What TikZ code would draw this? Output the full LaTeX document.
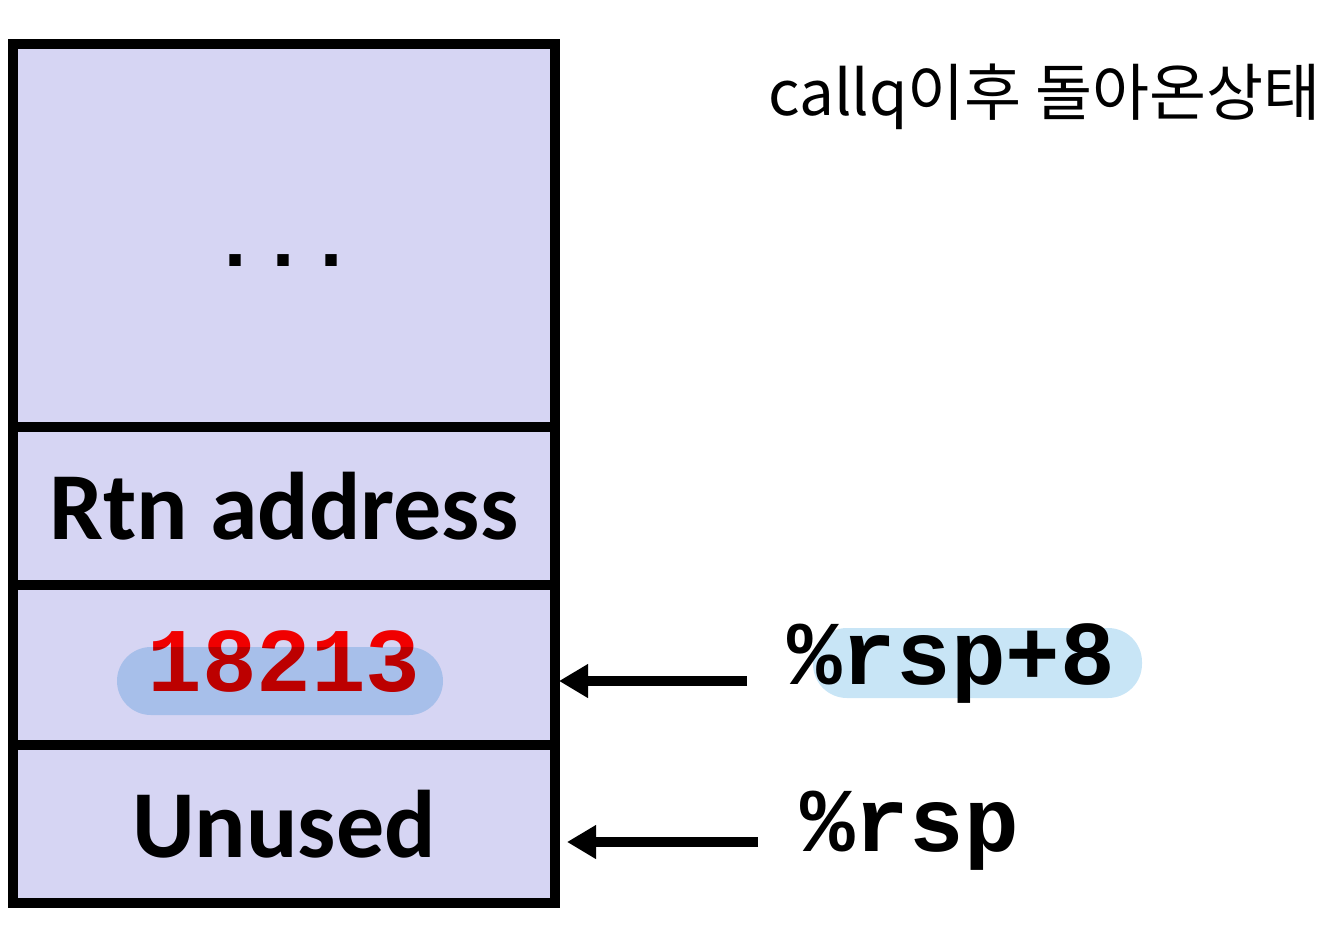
\documentclass[tikz,border=0pt]{standalone}
\usepackage{fontspec}
\setmainfont{Carlito}
\newfontfamily\codefont{Liberation Mono}
\newfontfamily\hangulfont{Noto Sans CJK KR}
\usetikzlibrary{positioning,calc,arrows.meta}

\definecolor{cellfill}{RGB}{214,213,243}
\definecolor{marker}{RGB}{200,229,246}
\definecolor{valred}{RGB}{240,0,0}

\begin{document}
\begin{tikzpicture}[
    x=1pt, y=-1pt,
    cell/.style={
        rectangle, draw=black, line width=10pt, fill=cellfill,
        minimum width=542pt, inner sep=0pt, outer sep=0pt,
        font=\fontsize{96}{110}\selectfont\bfseries
    },
    code/.style={
        inner sep=0pt, font=\fontsize{91}{100}\selectfont\codefont\bfseries
    },
    pill/.style={
        rectangle, rounded corners=34pt, fill=marker, inner sep=0pt
    },
    pointer/.style={
        line width=10pt, -{Triangle[length=29pt,width=32pt]}
    }
]
    \useasboundingbox (0,0) rectangle (1332,927);

    % stack cells
    \node (frame) [cell, minimum height=383pt] at (284,235.5) {};
    \node (ret) [cell, minimum height=158pt, below=0pt of frame] {Rtn address};
    \node (arg) [cell, minimum height=160pt, below=0pt of ret] {};
    \node (unused) [cell, minimum height=158pt, below=0pt of arg] {Unused};

    \node (ellip) [code, font=\fontsize{80}{90}\selectfont\codefont\bfseries] at ([yshift=-25pt]frame.center) {...};
    \node (val) [code, text=valred] at ([yshift=3pt]arg.center) {18213};

    % registers
    \coordinate (p1) at (747,681);
    \coordinate (p0) at (758,842);
    \node (rsp8) [code, anchor=base west] at (787,684) {\%rsp+8};
    \node (rsp) [code, anchor=base west] at (800,851) {\%rsp};

    \draw [pointer, shorten >=4pt] (p1) -- (arg.east |- p1);
    \draw [pointer, shorten >=12pt] (p0) -- (unused.east |- p0);

    \node (note) [anchor=west, inner sep=0pt, font=\fontsize{62}{70}\selectfont\hangulfont] at (768,97) {callq이후 돌아온상태};

    % highlighter marks
    \begin{scope}[blend mode=multiply]
        \node (hlval) [pill, minimum width=326pt, minimum height=68pt] at (280,681) {};
        \node (hlreg) [pill, minimum width=329pt, minimum height=70pt] at (977.5,663) {};
    \end{scope}
\end{tikzpicture}
\end{document}
